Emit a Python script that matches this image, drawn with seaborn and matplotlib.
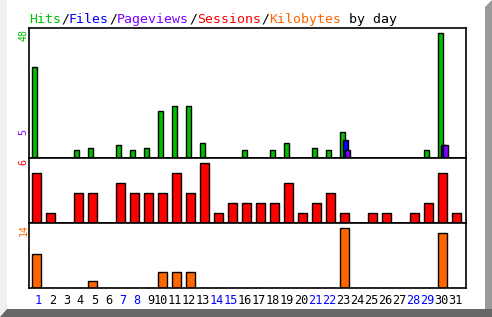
import numpy as np
import pandas as pd
import matplotlib
matplotlib.use("Agg")
import matplotlib.pyplot as plt
from matplotlib.patches import Polygon
import seaborn as sns

# ---------------- data ----------------
days = list(range(1, 32))
hits = [35, 0, 0, 3, 4, 0, 5, 3, 4, 18, 20, 20, 6, 0, 0, 3, 0, 3, 6, 0, 4, 3, 10, 0, 0, 0, 0, 0, 3, 48, 0]
files = [0] * 22 + [7] + [0] * 6 + [5, 0]
pageviews = [0] * 22 + [3] + [0] * 6 + [5, 0]
sessions = [5, 1, 0, 3, 3, 0, 4, 3, 3, 3, 5, 3, 6, 1, 2, 2, 2, 2, 4, 1, 2, 3, 1, 0, 1, 1, 0, 1, 2, 5, 1]
kilobytes = [7.8, 0, 0, 0, 1.7, 0, 0, 0, 0, 3.8, 3.8, 3.8, 0, 0, 0, 0, 0, 0, 0, 0, 0, 0, 14, 0, 0, 0, 0, 0, 0, 12.8, 0]
weekend_days = [1, 7, 8, 14, 15, 21, 22, 28, 29]
title_parts = [("Hits", "#00c000"), ("/", "black"), ("Files", "#0000ff"), ("/", "black"),
               ("Pageviews", "#8000ff"), ("/", "black"), ("Sessions", "#ff0000"), ("/", "black"),
               ("Kilobytes", "#ff6600"), (" by day", "black")]

C_HITS, C_FILES, C_PAGES = "#00c000", "#0000ff", "#8000ff"
C_SESS, C_KB = "#ff0000", "#ff6600"

sns.set_theme(style="white")
plt.rcParams["font.family"] = ["DejaVu Sans Mono"]

W, H = 492, 317
fig = plt.figure(figsize=(W / 100, H / 100), dpi=100)
fig.patch.set_facecolor("white")

# background frame (3D-ish border)
bg = fig.add_axes([0, 0, 1, 1], zorder=-10)
bg.set_xlim(0, W)
bg.set_ylim(H, 0)
bg.axis("off")
bg.add_patch(Polygon([[0, 0], [7, 0], [7, 309], [0, 317]], closed=True, color="#f0f0f0", lw=0))
bg.add_patch(Polygon([[485, 7], [492, 0], [492, 317], [485, 317]], closed=True, color="#999999", lw=0))
bg.add_patch(Polygon([[7, 309], [492, 309], [492, 317], [0, 317]], closed=True, color="#666666", lw=0))


def px_axes(left, right, top, bottom):
    return fig.add_axes([left / W, (H - bottom) / H, (right - left) / W, (bottom - top) / H])


L, R = 29, 465.7
ax1 = px_axes(L, R, 28.3, 158.3)
ax2 = px_axes(L, R, 158.3, 223)
ax3 = px_axes(L, R, 223, 288)

idx = np.arange(len(days))
xmin, xmax = -2 / 14, (R - 31) / 14


def bars(ax, offset, values, color, width, z=2):
    before = len(ax.patches)
    df = pd.DataFrame({"x": idx + offset, "y": values})
    sns.barplot(data=df, x="x", y="y", native_scale=True, width=width, color=color,
                saturation=1, edgecolor="black", linewidth=1.0, errorbar=None, ax=ax)
    for p in ax.patches[before:]:
        p.set_zorder(z)


bars(ax1, 0.23, hits, C_HITS, 0.38, 2)
bars(ax1, 0.45, files, C_FILES, 0.38, 3)
bars(ax1, 0.59, pageviews, C_PAGES, 0.38, 4)
bars(ax2, 0.37, sessions, C_SESS, 0.62)
bars(ax3, 0.37, kilobytes, C_KB, 0.62)

ax1.set_ylim(0, max(hits) * 130 / 125.5)
ax2.set_ylim(0, max(sessions) * 64.7 / 60.2)
ax3.set_ylim(0, max(kilobytes) * 65 / 60.2)

for ax in (ax1, ax2, ax3):
    ax.set_xlim(xmin, xmax)
    ax.set_facecolor("white")
    ax.set_xlabel("")
    ax.set_ylabel("")
    ax.set_yticks([])
    for s in ax.spines.values():
        s.set_visible(True)
        s.set_color("black")
        s.set_linewidth(1.2)
        s.set_zorder(10)
    ax.tick_params(axis="both", length=0)

ax1.set_xticks([])
ax2.set_xticks([])
ax3.set_xticks(idx + 0.79)
ax3.set_xticklabels([str(d) for d in days], ha="right", fontsize=8.6)
ax3.tick_params(axis="x", pad=4)
for lab, d in zip(ax3.get_xticklabels(), days):
    lab.set_color("#0000ff" if d in weekend_days else "black")


# max labels (rotated)
def vlabel(text, color, top):
    fig.text(23.3 / W, (H - top) / H, text, rotation=90, ha="center", va="top",
             color=color, fontsize=7.2)


vlabel(str(max(hits)), C_HITS, 29.3)
vlabel(str(max(pageviews)), C_PAGES, 129)
vlabel(str(max(sessions)), C_SESS, 159.3)
vlabel(str(int(round(max(kilobytes)))), C_KB, 224)

# multicolour title, pieces chained one after another
prev = fig.text(29 / W, (H - 22.7) / H, title_parts[0][0], color=title_parts[0][1],
                fontsize=9.55, ha="left", va="baseline")
for text, color in title_parts[1:]:
    prev = ax1.annotate(text, xy=(1, 0), xycoords=prev, xytext=(0, 0), textcoords="offset points",
                        color=color, fontsize=9.55, ha="left", va="bottom", annotation_clip=False)

fig.savefig("out.png", dpi=100, facecolor="white")
